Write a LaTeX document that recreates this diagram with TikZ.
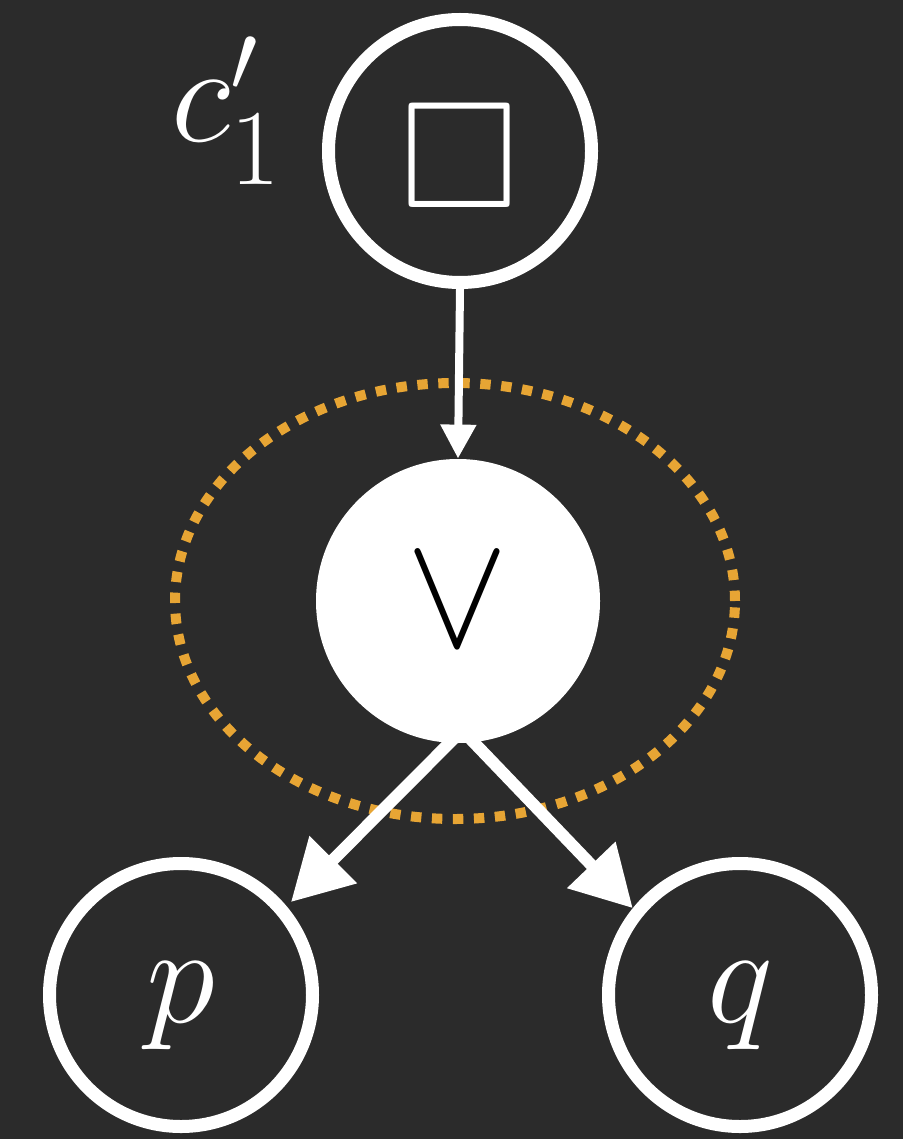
\RequirePackage{fix-cm}
\documentclass[tikz,border=0pt]{standalone}
\usepackage{amssymb}
\usepackage{graphicx}
\usetikzlibrary{arrows.meta,calc}
\definecolor{board}{RGB}{43,43,43}
\definecolor{chalkorange}{RGB}{231,165,52}
\tikzset{
  big/.style={font=\fontsize{70}{84}\selectfont},
  ring/.style={circle, draw=white, line width=6.5pt, minimum size=131.5pt, inner sep=0pt, text=white, big},
  filled/.style={circle, fill=white, minimum size=142pt, inner sep=0pt, text=black},
  thinarrow/.style={draw=white, line width=4pt, -{Triangle[width=17pt,length=17pt]}},
  thickarrow/.style={draw=white, line width=6pt, -{Triangle[width=32pt,length=30pt]}},
  dotring/.style={draw=chalkorange, line width=5pt, dash pattern=on 5.2pt off 5.3pt}
}
\begin{document}
\begin{tikzpicture}[x=0.5pt,y=-0.5pt]
\fill[board] (0,0) rectangle (903,1139);
\useasboundingbox (0,0) rectangle (903,1139);
% dotted ellipse
\draw[dotring] (455,601) ellipse [x radius=140pt, y radius=109pt];
% nodes
\node[ring] (c1) at (460,151) {\raisebox{-28.5pt}[0pt][0pt]{\fontsize{76}{90}\selectfont$\Box$}};
\node[filled] (v) at (458,601) {\resizebox*{51pt}{45.5pt}{$\vee$}};
\node[ring] (p) at (181,995) {\raisebox{-13.5pt}[0pt][0pt]{$p$}};
\node[ring] (q) at (740,995) {\raisebox{-13.5pt}[0pt][0pt]{$q$}};
\node[anchor=base west, inner sep=0pt, text=white, big] (lab) at (171,142) {$c'_{\raisebox{5pt}{\fontsize{54}{60}\selectfont 1}}$};
% connectors
\draw[thinarrow] (c1.south) -- (v.north);
\coordinate (vl) at ($(v.south)+(-3,-6)$);
\coordinate (vr) at ($(v.south)+(11,-6)$);
\draw[thickarrow, shorten >=3pt] (vl) -- (p.40);
\draw[thickarrow] (vr) -- (q.141);
\end{tikzpicture}
\end{document}
